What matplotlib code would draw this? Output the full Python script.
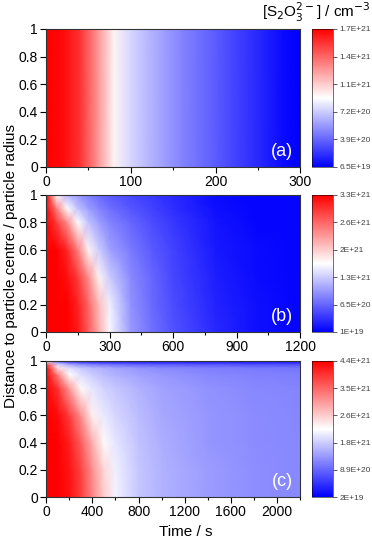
import numpy as np
import matplotlib.pyplot as plt

plt.rcParams['font.family'] = ['Liberation Sans', 'DejaVu Sans']

# concentrations in units of 1E21 cm^-3
# panel (a): uniform across the radius
t_a = [0, 20, 40, 60, 80, 100, 120, 140, 160, 180, 200, 220, 240, 260, 280, 300]
c_a = [1.70, 1.667, 1.537, 1.242, 0.915, 0.752, 0.654, 0.572, 0.490, 0.425,
       0.359, 0.294, 0.229, 0.163, 0.098, 0.065]

# panel (b)
t_b = [0, 50, 100, 150, 200, 250, 300, 400, 500, 600, 800, 1000, 1200]
r_b = [0.0, 0.2, 0.4, 0.6, 0.8, 0.9, 1.0]
c_b = [
    [3.30, 3.30, 3.30, 3.14, 2.71, 2.18, 1.62, 1.00, 0.73, 0.54, 0.27, 0.11, 0.04],
    [3.30, 3.30, 3.30, 3.07, 2.64, 2.08, 1.56, 0.96, 0.70, 0.50, 0.24, 0.11, 0.04],
    [3.30, 3.30, 3.20, 2.91, 2.38, 1.72, 1.33, 0.90, 0.67, 0.47, 0.21, 0.08, 0.04],
    [3.30, 3.30, 3.04, 2.48, 1.72, 1.33, 1.06, 0.80, 0.60, 0.44, 0.17, 0.08, 0.04],
    [3.30, 2.91, 2.38, 1.655, 1.26, 1.03, 0.87, 0.67, 0.50, 0.37, 0.14, 0.04, 0.04],
    [3.30, 2.48, 1.655, 1.26, 1.03, 0.87, 0.73, 0.57, 0.44, 0.31, 0.11, 0.04, 0.04],
    [3.30, 1.655, 1.19, 1.00, 0.83, 0.70, 0.60, 0.47, 0.37, 0.27, 0.08, 0.04, 0.04],
]

# panel (c)
t_c = [0, 100, 200, 300, 400, 500, 600, 800, 1000, 1400, 1800, 2200]
r_c = [0.0, 0.2, 0.4, 0.6, 0.8, 0.9, 0.95, 0.98, 1.0]
c_c = [
    [4.40, 4.40, 4.27, 3.87, 3.26, 2.65, 2.12, 1.73, 1.55, 1.36, 1.24, 1.19],
    [4.40, 4.40, 4.22, 3.83, 3.17, 2.56, 2.08, 1.73, 1.55, 1.36, 1.24, 1.19],
    [4.40, 4.40, 4.14, 3.61, 2.91, 2.25, 1.99, 1.68, 1.51, 1.32, 1.23, 1.19],
    [4.40, 4.31, 3.87, 3.17, 2.34, 2.03, 1.86, 1.64, 1.47, 1.31, 1.22, 1.18],
    [4.40, 3.96, 3.09, 2.25, 1.99, 1.82, 1.73, 1.55, 1.42, 1.27, 1.20, 1.16],
    [4.40, 3.31, 2.21, 1.95, 1.77, 1.64, 1.55, 1.42, 1.33, 1.19, 1.14, 1.10],
    [4.40, 2.47, 1.95, 1.73, 1.60, 1.51, 1.42, 1.29, 1.20, 1.11, 1.06, 1.02],
    [3.52, 1.77, 1.33, 1.12, 0.98, 0.90, 0.85, 0.76, 0.72, 0.68, 0.63, 0.63],
    [2.21, 0.68, 0.37, 0.24, 0.20, 0.15, 0.15, 0.11, 0.11, 0.11, 0.11, 0.11],
]

limits = [(0.065, 1.70), (0.01, 3.30), (0.02, 4.40)]
cbar_labels = [
    ['6.5E+19', '3.9E+20', '7.2E+20', '1.1E+21', '1.4E+21', '1.7E+21'],
    ['1E+19', '6.5E+20', '1.3E+21', '2E+21', '2.6E+21', '3.3E+21'],
    ['2E+19', '8.9E+20', '1.8E+21', '2.6E+21', '3.5E+21', '4.4E+21'],
]
xticks = [[0, 100, 200, 300], [0, 300, 600, 900, 1200], [0, 400, 800, 1200, 1600, 2000]]
xminor = [50, 150, 200]
panel_names = ['(a)', '(b)', '(c)']

fig = plt.figure(figsize=(3.72, 5.42), dpi=100)
bottoms = [0.692, 0.3875, 0.083]
heights = [0.2546, 0.253, 0.251]

datasets = [
    (t_a, [0.0, 1.0], [c_a, c_a]),
    (t_b, r_b, c_b),
    (t_c, r_c, c_c),
]

for i, (t, r, c) in enumerate(datasets):
    ax = fig.add_axes([0.124, bottoms[i], 0.683, heights[i]])
    cax = fig.add_axes([0.839, bottoms[i], 0.0565, heights[i]])
    T, R = np.meshgrid(t, r)
    vmin, vmax = limits[i]
    pc = ax.pcolormesh(T, R, np.array(c), cmap='bwr', vmin=vmin, vmax=vmax,
                       shading='gouraud', rasterized=True)
    ax.set_xlim(t[0], t[-1])
    ax.set_ylim(0, 1)
    ax.set_xticks(xticks[i])
    ax.set_xticks(np.arange(0, t[-1] + 1, xminor[i]), minor=True)
    ax.set_yticks([0, 0.2, 0.4, 0.6, 0.8, 1.0])
    ax.set_yticklabels(['0', '0.2', '0.4', '0.6', '0.8', '1'])
    ax.tick_params(direction='out', length=4, width=0.8, labelsize=10, pad=2)
    ax.tick_params(which='minor', direction='out', length=2.5, width=0.8)
    for s in ax.spines.values():
        s.set_linewidth(0.8)
        s.set_color('#333333')
    ax.text(0.97, 0.05, panel_names[i], transform=ax.transAxes, ha='right',
            va='bottom', color='white', fontsize=13)

    cb = fig.colorbar(pc, cax=cax)
    cb.set_ticks(np.linspace(vmin, vmax, 6))
    cb.set_ticklabels(cbar_labels[i])
    cb.ax.tick_params(labelsize=6, length=3, width=0.6, colors='#444444', pad=1.5)
    cb.outline.set_linewidth(0.4)

fig.text(0.5, 0.006, 'Time / s', ha='center', va='bottom', fontsize=11)
fig.text(0.012, 0.51, 'Distance to particle centre / particle radius',
         rotation=90, ha='left', va='center', fontsize=11)
fig.text(0.995, 0.955, r'[S$_2$O$_3^{2-}$] / cm$^{-3}$', ha='right', va='bottom',
         fontsize=11)

fig.savefig('out.png', dpi=100)
